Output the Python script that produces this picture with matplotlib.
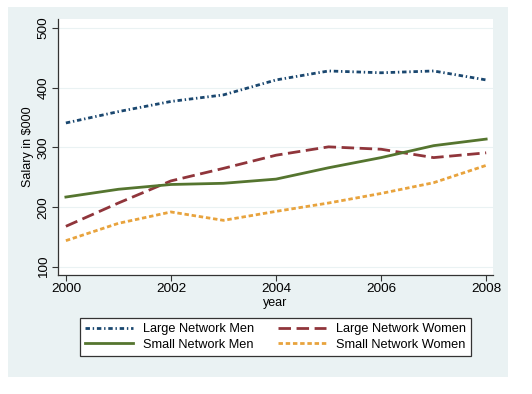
import matplotlib
matplotlib.use("Agg")
from matplotlib import pyplot as plt
from matplotlib.patches import Rectangle

plt.rcParams['font.family'] = ['Liberation Sans', 'DejaVu Sans']

years = [2000, 2001, 2002, 2003, 2004, 2005, 2006, 2007, 2008]
large_men = [341, 360, 377, 388, 413, 428, 425, 428, 413]
large_women = [168, 207, 244, 265, 287, 301, 297, 283, 291]
small_men = [217, 230, 238, 240, 247, 266, 283, 303, 314]
small_women = [144, 173, 192, 178, 193, 207, 223, 241, 270]

y_ticks = [100, 200, 300, 400, 500]
x_ticks = [2000, 2002, 2004, 2006, 2008]

BG = "#EAF2F3"

fig = plt.figure(figsize=(5.32, 3.94), dpi=100)
fig.patch.set_facecolor("white")
# stata style outer panel, behind the axes
fig.patches.append(Rectangle((8/532, 1-377/394), 500/532, 370/394,
                             transform=fig.transFigure, facecolor=BG,
                             edgecolor="none", zorder=-10))

ax = fig.add_axes([58/532, 1-275/394, 435/532, 256/394])
ax.set_facecolor("white")

lw = 2.0
l1, = ax.plot(years, large_men, color="#1A476F", lw=lw, dashes=(1.6, 1.0, 0.5, 1.0),
              label="Large Network Men")
l2, = ax.plot(years, large_women, color="#90353B", lw=lw, dashes=(4.5, 2.0),
              label="Large Network Women")
l3, = ax.plot(years, small_men, color="#55752F", lw=lw, label="Small Network Men")
l4, = ax.plot(years, small_women, color="#E8A33D", lw=lw, dashes=(1.6, 1.0),
              label="Small Network Women")

ax.set_xlim(1999.85, 2008.13)
ax.set_ylim(86.5, 515)
ax.set_yticks(y_ticks)
ax.set_xticks(x_ticks)
ax.set_yticklabels([str(t) for t in y_ticks], rotation=90, va="center")
ax.tick_params(labelsize=9.7, length=4, color="#333333", pad=2)
ax.yaxis.grid(True, color=BG, lw=0.8)
ax.set_axisbelow(True)
for s in ["top", "right"]:
    ax.spines[s].set_visible(False)
for s in ["left", "bottom"]:
    ax.spines[s].set_color("#333333")
    ax.spines[s].set_linewidth(0.9)

ax.set_xlabel("year", fontsize=9, labelpad=1)
ax.set_ylabel("Salary in $000", fontsize=9, labelpad=3)

# column-wise fill, so order gives men/women rows like the original
handles = [l1, l3, l2, l4]
leg = fig.legend(handles, [h.get_label() for h in handles],
                 loc="center", bbox_to_anchor=(275.5/532, 1-337/394), ncol=2,
                 fontsize=9.2, frameon=True, fancybox=False, edgecolor="#333333",
                 facecolor="white", framealpha=1,
                 handlelength=3.8, columnspacing=1.8, handletextpad=0.8,
                 borderpad=0.4, labelspacing=0.3)
leg.get_frame().set_linewidth(0.9)

fig.savefig("out.png", dpi=100)
